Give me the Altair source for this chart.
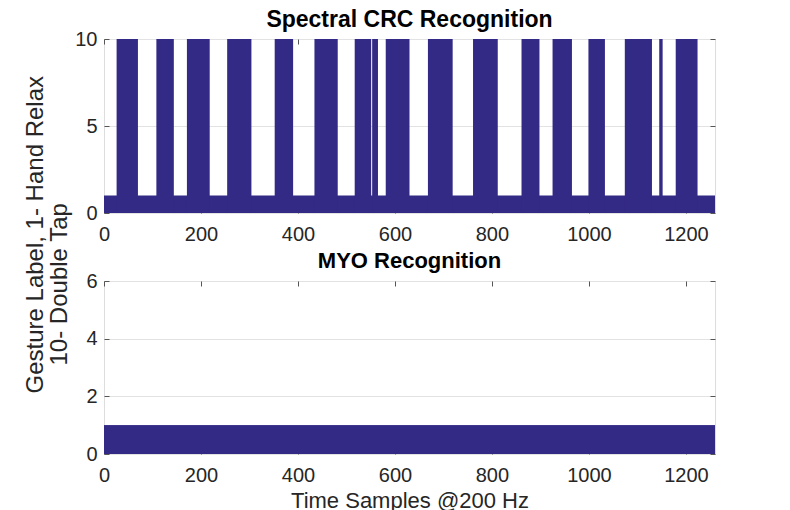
import altair as alt
import pandas as pd

# ---------------- data ----------------
X_MAX = 1260
x_ticks = [0, 200, 400, 600, 800, 1000, 1200]
crc_y_ticks = [0, 5, 10]
myo_y_ticks = [0, 2, 4, 6]
crc_y_max = 10
myo_y_max = 6

crc_rest_level = 1       # "1- Hand Relax" band along the whole record
crc_tap_level = 10       # "10- Double Tap" bursts
crc_tap_starts = [26, 108, 171, 254, 352, 434, 517, 553, 581, 668, 761, 861, 925, 999, 1074, 1145, 1179]
crc_tap_ends   = [70, 144, 218, 304, 390, 482, 551, 565, 630, 719, 812, 898, 965, 1033, 1130, 1152, 1224]

myo_level = 1            # MYO stays at label 1 the whole record

titles = ["Spectral CRC Recognition", "MYO Recognition"]
y_label_line1 = "Gesture Label,  1- Hand Relax"
y_label_line2 = "10- Double Tap"
x_label = "Time Samples @200 Hz"

# ---------------- tables ----------------
crc_rest = pd.DataFrame({"x0": [0], "x1": [X_MAX], "lo": [0], "hi": [crc_rest_level]})
crc_taps = pd.DataFrame({"x0": crc_tap_starts, "x1": crc_tap_ends,
                         "lo": [0] * len(crc_tap_starts), "hi": [crc_tap_level] * len(crc_tap_starts)})
myo = pd.DataFrame({"x0": [0], "x1": [X_MAX], "lo": [0], "hi": [myo_level]})

# ---------------- style ----------------
FILL = "#332a86"
FONT = "Liberation Sans"
TICK = "#555555"
W = 611

xs = alt.Scale(domain=[0, X_MAX], nice=False, zero=False)


def main_x(title=None):
    kw = dict(values=x_ticks, format="d", domain=False, ticks=True, tickSize=5, offset=-5,
              tickColor=TICK, labelPadding=11, labelFontSize=20, labelFlush=False,
              labelColor="#262626", labelFont=FONT, grid=False)
    if title is None:
        return alt.Axis(title=None, **kw)
    return alt.Axis(title=title, titleFontSize=22, titleFont=FONT, titleFontWeight="normal",
                    titleColor="#262626", titlePadding=5, **kw)


def label_style(tx, ty):
    return dict(titleFontSize=24, titleFont=FONT, titleFontWeight="normal",
                titleColor="#262626", titleAngle=270, titleAlign="left",
                titleBaseline="alphabetic", titleX=tx, titleY=ty)


def main_y(vals, title=None, tx=0, ty=0):
    kw = dict(values=vals, format="d", domain=False, ticks=True, tickSize=5, offset=-5,
              tickColor=TICK, labelPadding=7, labelFontSize=20, labelFlush=False,
              labelColor="#262626", labelFont=FONT, grid=True, gridColor="#e2e2e2",
              gridWidth=1)
    if title is None:
        return alt.Axis(title=None, **kw)
    return alt.Axis(title=title, **kw, **label_style(tx, ty))


def sec_x():
    return alt.Axis(orient="top", values=x_ticks, labels=False, domain=False, ticks=True,
                    tickSize=5, offset=-5, tickColor=TICK, grid=False, title=None)


def sec_y(vals, title=None, tx=0, ty=0):
    kw = dict(orient="right", values=vals, labels=False, domain=False, ticks=True,
              tickSize=5, offset=-5, tickColor=TICK, grid=False)
    if title is None:
        return alt.Axis(title=None, **kw)
    return alt.Axis(title=title, **kw, **label_style(tx, ty))


def panel_title(text, size, off):
    return alt.TitleParams(text=text, fontSize=size, fontWeight="bold", font=FONT, color="black",
                           anchor="middle", frame="group", baseline="alphabetic", offset=off)


# ---------------- top panel ----------------
ys_top = alt.Scale(domain=[0, crc_y_max], nice=False, zero=False)
top = alt.layer(
    alt.Chart(crc_rest).mark_rect(color=FILL).encode(
        x=alt.X("x0:Q", scale=xs, axis=main_x()), x2="x1:Q",
        y=alt.Y("lo:Q", scale=ys_top, axis=main_y(crc_y_ticks, y_label_line1, -66.5, 354)),
        y2="hi:Q"),
    alt.Chart(crc_taps).mark_rect(color=FILL).encode(
        x=alt.X("x0:Q", scale=xs, axis=sec_x()), x2="x1:Q",
        y=alt.Y("lo:Q", scale=ys_top,
                axis=sec_y(crc_y_ticks, y_label_line2, -(W - 5) - 37.5, 326)),
        y2="hi:Q"),
).resolve_axis(x="independent", y="independent").properties(
    width=W, height=174, title=panel_title(titles[0], 23, -21))

# ---------------- bottom panel ----------------
ys_bot = alt.Scale(domain=[0, myo_y_max], nice=False, zero=False)
bottom = alt.layer(
    alt.Chart(myo).mark_rect(color=FILL).encode(
        x=alt.X("x0:Q", scale=xs, axis=main_x(x_label)), x2="x1:Q",
        y=alt.Y("lo:Q", scale=ys_bot, axis=main_y(myo_y_ticks)), y2="hi:Q"),
    alt.Chart(myo).mark_rect(color=FILL).encode(
        x=alt.X("x0:Q", scale=xs, axis=sec_x()), x2="x1:Q",
        y=alt.Y("lo:Q", scale=ys_bot, axis=sec_y(myo_y_ticks)), y2="hi:Q"),
).resolve_axis(x="independent", y="independent").properties(
    width=W, height=173, title=panel_title(titles[1], 22, -19))

chart = alt.vconcat(top, bottom, spacing=68, bounds="flush").properties(
    padding={"left": 14, "top": 0, "right": 5, "bottom": 0}
).configure_view(stroke="#7a7a7a", strokeWidth=1).configure(font=FONT)

chart.save("out.html", embed_options={"renderer": "svg", "actions": False})
